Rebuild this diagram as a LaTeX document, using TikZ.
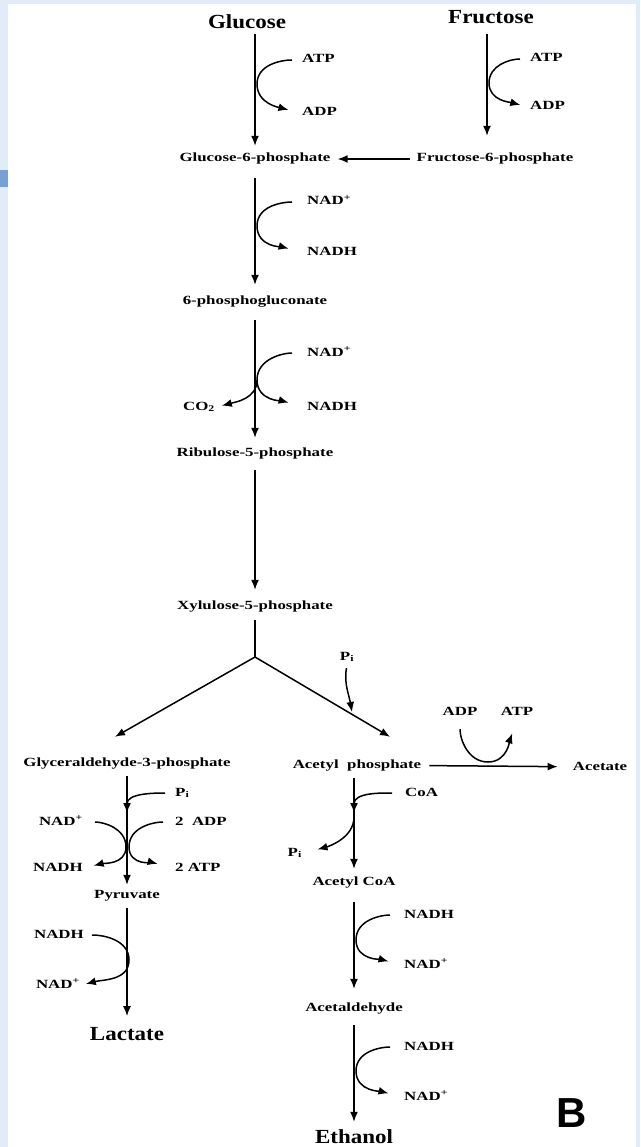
\documentclass[tikz,border=0pt]{standalone}
\usepackage{fontspec}
\setmainfont{Liberation Serif}
\newfontfamily\smfont{Liberation Serif}[FakeStretch=1.35]
\newfontfamily\bigfont{Liberation Serif}[FakeStretch=1.15]
\newfontfamily\panelfont{Liberation Sans}
\usepackage{xcolor}
\usetikzlibrary{arrows.meta,positioning}
\definecolor{edgeblue}{RGB}{226,236,248}
\definecolor{markblue}{RGB}{120,160,210}

\begin{document}
\begin{tikzpicture}[
    x=1pt, y=-1pt,
    metab/.style={inner sep=3pt, text height=9pt, text depth=3pt, font=\smfont\bfseries\fontsize{12.5}{14}\selectfont},
    cofac/.style={metab, inner sep=2pt},
    endprod/.style={inner sep=3pt, font=\bigfont\bfseries\fontsize{20}{24}\selectfont},
    arr/.style={-{Latex[length=10pt,width=8pt]}, line width=1.5pt, shorten <=7pt, shorten >=5pt},
    cof/.style={-{Latex[length=10pt,width=8pt]}, line width=1.5pt, shorten <=10pt, shorten >=14pt}
]
    \useasboundingbox (0,0) rectangle (640,1147);
    % Page edge
    \fill[edgeblue] (0,0) rectangle (8,1147);
    \fill[edgeblue] (0,0) rectangle (640,4);
    \fill[edgeblue] (636,0) rectangle (640,1147);
    \fill[markblue] (0,170) rectangle (8,187);

    % Metabolites
    \node[endprod] (glc) at (247,22) {Glucose};
    \node[endprod] (fru) at (491,17) {Fructose};
    \node[metab] (g6p) at (255,159) {Glucose-6-phosphate};
    \node[metab] (f6p) at (495,159) {Fructose-6-phosphate};
    \node[metab] (pgl) at (255,302) {6-phosphogluconate};
    \node[metab] (ru5p) at (255,453) {Ribulose-5-phosphate};
    \node[metab] (xu5p) at (255,606) {Xylulose-5-phosphate};
    \node[metab] (gap) at (127,763) {Glyceraldehyde-3-phosphate};
    \node[metab] (acp) at (357,765) {Acetyl\ \ phosphate};
    \node[metab] (ace) at (600,767) {Acetate};
    \node[metab] (pyr) at (127,895) {Pyruvate};
    \node[endprod] (lac) at (127,1034) {Lactate};
    \node[metab] (acoa) at (354,882) {Acetyl CoA};
    \node[metab] (acal) at (354,1008) {Acetaldehyde};
    \node[endprod] (etoh) at (354,1137) {Ethanol};
    \node[font=\panelfont\bfseries\fontsize{42}{42}\selectfont, inner sep=0pt] (panel) at (572,1113) {B};

    % Cofactors
    \node[cofac, anchor=west] (atp1) at (300,60) {ATP};
    \node[cofac, anchor=west] (adp1) at (300,113) {ADP};
    \node[cofac, anchor=west] (atp2) at (528,59) {ATP};
    \node[cofac, anchor=west] (adp2) at (528,107) {ADP};
    \node[cofac, anchor=west] (nad1) at (305,202) {NAD\textsuperscript{+}};
    \node[cofac, anchor=west] (nadh1) at (305,253) {NADH};
    \node[cofac, anchor=west] (nad2) at (305,353) {NAD\textsuperscript{+}};
    \node[cofac, anchor=west] (nadh2) at (305,407) {NADH};
    \node[cofac, anchor=east] (co2) at (217,407) {CO\textsubscript{2}};
    \node[cofac] (pi1) at (347,657) {P\textsubscript{i}};
    \node[cofac] (adp3) at (460,712) {ADP};
    \node[cofac] (atp3) at (517,712) {ATP};
    \node[cofac, anchor=west] (pi2) at (173,793) {P\textsubscript{i}};
    \node[cofac, anchor=east] (nad3) at (85,822) {NAD\textsuperscript{+}};
    \node[cofac, anchor=west] (adp4) at (173,822) {2\ \ ADP};
    \node[cofac, anchor=east] (nadh3) at (85,868) {NADH};
    \node[cofac, anchor=west] (atp4) at (173,868) {2 ATP};
    \node[cofac, anchor=east] (nadh4) at (86,935) {NADH};
    \node[cofac, anchor=east] (nad4) at (82,985) {NAD\textsuperscript{+}};
    \node[cofac, anchor=west] (coa) at (403,793) {CoA};
    \node[cofac, anchor=east] (pi3) at (304,853) {P\textsubscript{i}};
    \node[cofac, anchor=west] (nadh5) at (402,915) {NADH};
    \node[cofac, anchor=west] (nad5) at (402,965) {NAD\textsuperscript{+}};
    \node[cofac, anchor=west] (nadh6) at (402,1047) {NADH};
    \node[cofac, anchor=west] (nad6) at (402,1097) {NAD\textsuperscript{+}};

    % Points on the main arrows
    \coordinate (fx) at (487,0);
    \coordinate (jn) at (255,657);
    \coordinate (v1) at (257,84);
    \coordinate (v2) at (489,83);
    \coordinate (v3) at (257,226);
    \coordinate (v4) at (257,380);
    \coordinate (v5) at (352,712);
    \coordinate (v6) at (488,762);
    \coordinate (v7) at (127,813);
    \coordinate (v8) at (126,847);
    \coordinate (v9) at (129,847);
    \coordinate (v10) at (129,960);
    \coordinate (v11) at (354,813);
    \coordinate (v12) at (356,940);
    \coordinate (v13) at (356,1071);

    % Arrows
    \draw[arr, shorten <=2pt, shorten >=4pt] (glc.south -| g6p) -- (g6p);
    \draw[arr, shorten >=14pt] (fru.south -| fx) -- (f6p.north -| fx);
    \draw[arr, shorten <=4pt, shorten >=4pt] (f6p) -- (g6p);
    \draw[arr, shorten <=10pt, shorten >=8pt] (g6p) -- (pgl);
    \draw[arr, shorten <=9pt, shorten >=6pt] (pgl) -- (ru5p);
    \draw[arr, shorten <=8pt, shorten >=7pt] (ru5p) -- (xu5p);
    \draw[line width=1.5pt, shorten <=5pt] (xu5p) -- (jn);
    \draw[arr, shorten <=0pt, shorten >=0pt] (jn) -- ([xshift=-12pt,yshift=17pt]gap.north);
    \draw[arr, shorten <=0pt, shorten >=0pt] (jn) -- ([xshift=33pt,yshift=19pt]acp.north);
    \draw[arr, shorten <=5pt, shorten >=12pt] (acp) -- (ace);
    \draw[arr, shorten <=4pt, shorten >=1pt] (gap) -- (pyr);
    \draw[arr, shorten <=4pt, shorten >=8pt] (pyr) -- (lac);
    \draw[arr, shorten <=4pt, shorten >=4pt] (acp.south -| acoa) -- (acoa);
    \draw[arr, shorten <=11pt, shorten >=10pt] (acoa) -- (acal);
    \draw[arr, shorten <=8pt, shorten >=5pt] (acal) -- (etoh);

    % Cofactor curves
    \draw[cof, shorten <=8pt, shorten >=12pt] (atp1.west) to[out=180,in=90] (v1) to[out=-90,in=165] (adp1.west);
    \draw[cof, shorten <=8pt, shorten >=8pt] (atp2.west) to[out=180,in=90] (v2) to[out=-90,in=165] (adp2.west);
    \draw[cof, shorten <=13pt, shorten >=17pt] (nad1.west) to[out=180,in=90] (v3) to[out=-90,in=165] (nadh1.west);
    \draw[cof, shorten <=13pt, shorten >=17pt] (nad2.west) to[out=180,in=90] (v4) to[out=-90,in=165] (nadh2.west);
    \draw[cof, shorten <=0pt, shorten >=5pt] (v4) to[out=-90,in=15] (co2.east);
    \draw[cof, shorten <=3pt, shorten >=0pt] (pi1.south) to[out=-100,in=100] (v5);
    \draw[cof, shorten <=9pt, shorten >=14pt] (adp3.south) to[out=-90,in=180] (v6) to[out=0,in=-110] (atp3.south);
    \draw[cof, shorten <=8pt, shorten >=0pt] (pi2.west) to[out=180,in=90] (v7);
    \draw[cof, shorten <=10pt, shorten >=9pt] (nad3.east) to[out=0,in=90] (v8) to[out=-90,in=15] (nadh3.east);
    \draw[cof, shorten <=10pt, shorten >=16pt] (adp4.west) to[out=180,in=90] (v9) to[out=-90,in=165] (atp4.west);
    \draw[cof, shorten <=6pt, shorten >=4pt] (nadh4.east) to[out=0,in=90] (v10) to[out=-90,in=15] (nad4.east);
    \draw[cof, shorten <=11pt, shorten >=0pt] (coa.west) to[out=180,in=90] (v11);
    \draw[cof, shorten <=4pt, shorten >=14pt] (v11) to[out=-90,in=15] (pi3.east);
    \draw[cof, shorten <=12pt, shorten >=14pt] (nadh5.west) to[out=180,in=90] (v12) to[out=-90,in=165] (nad5.west);
    \draw[cof, shorten <=12pt, shorten >=14pt] (nadh6.west) to[out=180,in=90] (v13) to[out=-90,in=165] (nad6.west);
\end{tikzpicture}
\end{document}
